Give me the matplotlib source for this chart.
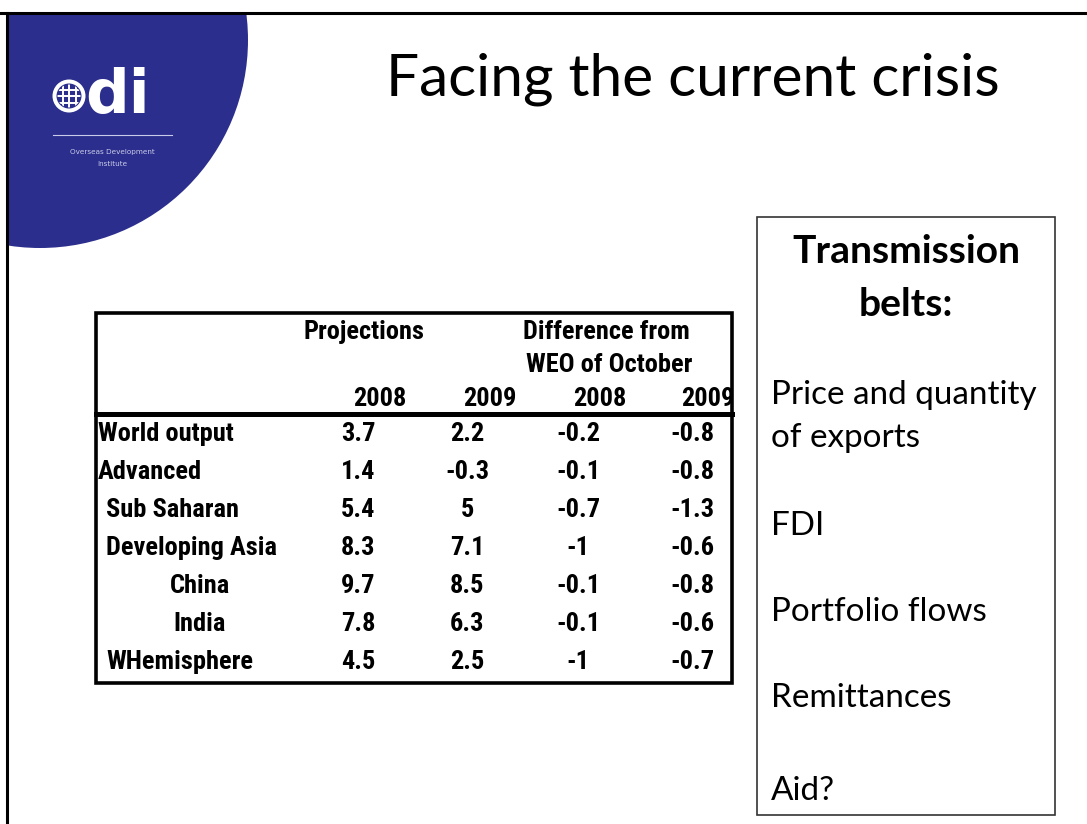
import matplotlib
matplotlib.use("Agg")
import matplotlib.pyplot as plt
from matplotlib.patches import Circle, Rectangle
from matplotlib.lines import Line2D
from matplotlib import font_manager as fm

# ---------------- data ----------------
title = "Facing the current crisis"
regions = ["World output", "Advanced", "Sub Saharan", "Developing Asia", "China", "India", "WHemisphere"]
proj_2008 = [3.7, 1.4, 5.4, 8.3, 9.7, 7.8, 4.5]
proj_2009 = [2.2, -0.3, 5, 7.1, 8.5, 6.3, 2.5]
diff_2008 = [-0.2, -0.1, -0.7, -1, -0.1, -0.1, -1]
diff_2009 = [-0.8, -0.8, -1.3, -0.6, -0.8, -0.6, -0.7]
group_headers = ["Projections", "Difference from\nWEO of October"]
year_labels = ["2008", "2009", "2008", "2009"]
belts_title = "Transmission\nbelts:"
belts = ["Price and quantity\nof exports", "FDI", "Portfolio flows", "Remittances", "Aid?"]

# ---------------- layout / style ----------------
W, H = 1087, 824
BLUE = "#2B2E8C"
fig = plt.figure(figsize=(W / 100, H / 100), dpi=100)
ax = fig.add_axes([0, 0, 1, 1])
ax.set_xlim(0, W)
ax.set_ylim(H, 0)
ax.axis("off")
renderer = fig.canvas.get_renderer()

def fit(x, y, s, width, size0=20, **kw):
    t = ax.text(x, y, s, fontsize=size0, **kw)
    bb = t.get_window_extent(renderer)
    t.set_fontsize(size0 * width / bb.width)
    return t

# Arial-Narrow-like bold face for the table if installed, else Liberation Sans
installed = {f.name for f in fm.fontManager.ttflist}
table_family = "Liberation Sans"
table_fs = 17
for cand in ("Liberation Sans Narrow", "Arial Narrow", "Nimbus Sans Narrow", "Roboto Condensed"):
    if cand in installed:
        table_family = cand
        table_fs = 19
        break
TF = dict(family=[table_family, "Liberation Sans"], fontweight="bold", color="black")

# blue quarter disc (clipped to slide area)
clip = Rectangle((7, 13), W, H, transform=ax.transData)
disc = Circle((40, 40), 208, facecolor=BLUE, edgecolor="none", zorder=1)
ax.add_patch(disc)
disc.set_clip_path(clip)

# slide border (top & left)
ax.add_line(Line2D([0, W], [13, 13], color="black", lw=2.2, zorder=5))
ax.add_line(Line2D([7, 7], [13, H], color="black", lw=2.2, zorder=5))

# odi logo: globe + "di"
ax.add_patch(Circle((69, 96), 16.5, facecolor="white", edgecolor="none", zorder=2))
ax.add_patch(Circle((69, 96), 12.5, facecolor=BLUE, edgecolor="none", zorder=3))
inner = Circle((69, 96), 11.5, transform=ax.transData)
for d in (-6.5, 0, 6.5):
    l1 = Line2D([69 + d, 69 + d], [78, 114], color="white", lw=1.4, zorder=4)
    l2 = Line2D([52, 86], [96 + d, 96 + d], color="white", lw=1.4, zorder=4)
    for l in (l1, l2):
        ax.add_line(l)
        l.set_clip_path(inner)
ax.text(85, 112.5, "di", color="white", fontsize=44, fontweight="bold",
        family="DejaVu Sans", va="baseline", ha="left", zorder=3)
ax.add_line(Line2D([53, 172], [135, 135], color="#c9cbe9", lw=0.8, zorder=3))
ax.text(112, 152, "Overseas Development", color="#c9cbe9", fontsize=5.2,
        ha="center", va="center", zorder=3)
ax.text(112, 164, "Institute", color="#c9cbe9", fontsize=5.2,
        ha="center", va="center", zorder=3)

# title
fit(386, 95, title, 616, family="Lato", va="baseline", ha="left", color="black")

# ---------------- table ----------------
tx0, tx1, ty0, ty1 = 96, 732, 313, 683
ax.add_patch(Rectangle((tx0, ty0), tx1 - tx0, ty1 - ty0, fill=False, edgecolor="black", lw=2.6, zorder=5))
ax.add_line(Line2D([tx0, tx1], [414, 414], color="black", lw=3.6, zorder=5))
fs = table_fs

ax.text(364, 339, group_headers[0], fontsize=fs, ha="center", va="baseline", **TF)
hdr2 = group_headers[1].split("\n")
ax.text(606, 339, hdr2[0], fontsize=fs, ha="center", va="baseline", **TF)
ax.text(609, 372, hdr2[1], fontsize=fs, ha="center", va="baseline", **TF)

year_right = [407, 517, 627, 734]
for xr, lab in zip(year_right, year_labels):
    ax.text(xr, 406, lab, fontsize=fs, ha="right", va="baseline", **TF)

col_x = [358, 467, 578, 692]
row_y0, row_dy = 432, 38
label_style = [("left", 98), ("left", 98), ("left", 106), ("left", 106),
               ("center", 200), ("center", 200), ("left", 106)]
for i, name in enumerate(regions):
    yb = row_y0 + i * row_dy + 9
    ha, xl = label_style[i]
    ax.text(xl, yb, name, fontsize=fs, ha=ha, va="baseline", **TF)
    for cx, series in zip(col_x, (proj_2008, proj_2009, diff_2008, diff_2009)):
        ax.text(cx, yb, f"{series[i]:g}", fontsize=fs, ha="center", va="baseline", **TF)

# ---------------- right box ----------------
bx0, bx1, by0, by1 = 757, 1055, 217, 815
ax.add_patch(Rectangle((bx0, by0), bx1 - bx0, by1 - by0, fill=False, edgecolor="#333333", lw=1.2, zorder=5))
bt = belts_title.split("\n")
tb = fit(906, 263, bt[0], 228, family="Lato", fontweight="bold", ha="center", va="baseline")
ax.text(906, 316, bt[1], fontsize=tb.get_fontsize(), family="Lato", fontweight="bold",
        ha="center", va="baseline")
pq = belts[0].split("\n")
t0 = fit(771, 404, pq[0], 266, family="Lato", ha="left", va="baseline")
bfs = t0.get_fontsize()
ax.text(771, 447, pq[1], fontsize=bfs, family="Lato", ha="left", va="baseline")
for yb, lab in zip([535, 621, 707, 800], belts[1:]):
    ax.text(771, yb, lab, fontsize=bfs, family="Lato", ha="left", va="baseline")

fig.savefig("out.png", dpi=100)
